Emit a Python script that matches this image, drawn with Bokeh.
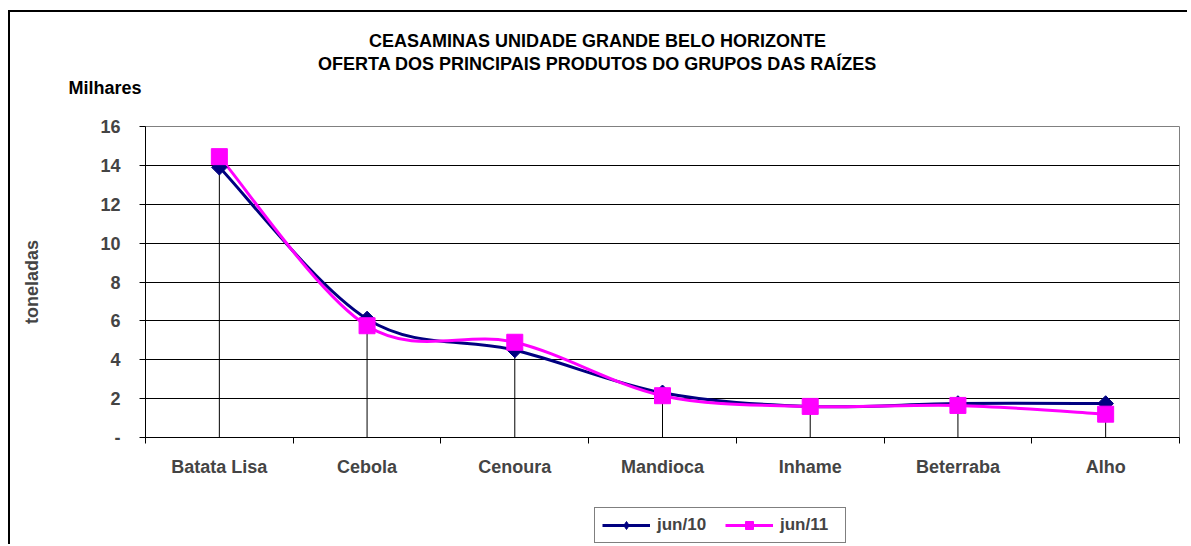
import numpy as np
from bokeh.plotting import figure
from bokeh.models import FixedTicker, Legend, LegendItem, Range1d, ColumnDataSource
from bokeh.core.properties import value
from bokeh.embed import file_html
from bokeh.resources import INLINE

# ---- data ----
categories = ["Batata Lisa", "Cebola", "Cenoura", "Mandioca", "Inhame", "Beterraba", "Alho"]
jun10 = [13.9, 6.1, 4.5, 2.3, 1.6, 1.75, 1.75]
jun11 = [14.45, 5.75, 4.9, 2.15, 1.6, 1.65, 1.2]
series_names = ["jun/10", "jun/11"]
y_ticks = [0, 2, 4, 6, 8, 10, 12, 14, 16]
y_tick_labels = ["-", "2", "4", "6", "8", "10", "12", "14", "16"]
title_lines = ["CEASAMINAS UNIDADE GRANDE BELO HORIZONTE",
               "OFERTA DOS PRINCIPAIS PRODUTOS DO GRUPOS DAS RAÍZES"]
unit_text = "Milhares"
y_title = "toneladas"

FONT = "Liberation Sans"
NAVY = "#000080"
MAGENTA = "#FF00FF"
W = 1179

xs = np.arange(len(categories), dtype=float)


def smooth_segments(y):
    """Cubic Bezier pieces (Catmull-Rom style smoothing, like Excel's smoothed line)."""
    y = np.asarray(y, dtype=float)
    n = len(y)
    d = dict(x0=[], y0=[], x1=[], y1=[], cx0=[], cy0=[], cx1=[], cy1=[])
    for i in range(n - 1):
        i0 = max(i - 1, 0)
        i3 = min(i + 2, n - 1)
        p0 = np.array([xs[i0], y[i0]])
        p1 = np.array([xs[i], y[i]])
        p2 = np.array([xs[i + 1], y[i + 1]])
        p3 = np.array([xs[i3], y[i3]])
        c0 = p1 + (p2 - p0) / 6.0
        c1 = p2 - (p3 - p1) / 6.0
        d["x0"].append(p1[0]); d["y0"].append(p1[1])
        d["x1"].append(p2[0]); d["y1"].append(p2[1])
        d["cx0"].append(c0[0]); d["cy0"].append(c0[1])
        d["cx1"].append(c1[0]); d["cy1"].append(c1[1])
    return ColumnDataSource(d)


def blank_fig(height, x0=0):
    f = figure(width=W, height=height, x_range=Range1d(x0, x0 + W), y_range=Range1d(0, height),
               x_axis_type=None, y_axis_type=None, output_backend="svg", toolbar_location=None,
               min_border=0)
    f.xgrid.visible = False
    f.ygrid.visible = False
    f.outline_line_color = None
    f.background_fill_color = "white"
    f.border_fill_color = "white"
    return f


# ---------- heading strip ----------
TOP_H = 104
head = blank_fig(TOP_H)
head.text(x=[587, 587], y=[TOP_H - 28, TOP_H - 51], text=title_lines,
          text_align="center", text_baseline="middle", text_font=value(FONT),
          text_font_style="bold", text_font_size="18px", text_color="black")
head.text(x=[58], y=[TOP_H - 75], text=[unit_text],
          text_align="left", text_baseline="middle", text_font=value(FONT),
          text_font_style="bold", text_font_size="18px", text_color="black")
head.margin = (10, 0, 0, 8)
head.styles = {"border-top": "2px solid black", "border-left": "2px solid black"}

# ---------- main chart ----------
p = figure(frame_width=1034, frame_height=311,
           x_range=Range1d(-0.5, len(categories) - 0.5), y_range=Range1d(0, 16),
           output_backend="svg", toolbar_location=None,
           min_border_left=135, min_border_right=10, min_border_top=12, min_border_bottom=50)
p.margin = (0, 0, 0, 8)
p.styles = {"border-left": "2px solid black"}
p.background_fill_color = "white"
p.border_fill_color = "white"
p.outline_line_color = "#808080"
p.outline_line_width = 1

p.xgrid.visible = False
p.ygrid.ticker = FixedTicker(ticks=y_ticks[1:-1])
p.ygrid.grid_line_color = "black"
p.ygrid.grid_line_width = 1

yax = p.yaxis[0]
yax.ticker = FixedTicker(ticks=y_ticks)
yax.major_label_overrides = {t: l for t, l in zip(y_ticks, y_tick_labels)}
yax.major_tick_out = 6
yax.major_tick_in = 0
yax.minor_tick_out = 0
yax.minor_tick_in = 0
yax.axis_line_color = "black"
yax.major_label_text_font = FONT
yax.major_label_text_font_style = "bold"
yax.major_label_text_font_size = "18px"
yax.major_label_standoff = 19
yax.axis_label = y_title
yax.axis_label_text_font = FONT
yax.axis_label_text_font_style = "bold"
yax.axis_label_text_font_size = "18px"
yax.axis_label_standoff = 55

xax = p.xaxis[0]
xax.ticker = FixedTicker(ticks=list(xs), minor_ticks=list(np.arange(len(categories) + 1) - 0.5))
xax.major_label_overrides = {int(i): c for i, c in enumerate(categories)}
xax.major_tick_out = 0
xax.major_tick_in = 0
xax.minor_tick_out = 6
xax.minor_tick_in = 0
xax.axis_line_color = "black"
xax.major_label_text_font = FONT
xax.major_label_text_font_style = "bold"
xax.major_label_text_font_size = "18px"
xax.major_label_standoff = 13

# drop lines
tops = [max(a, b) for a, b in zip(jun10, jun11)]
p.segment(x0=xs, y0=[0] * len(xs), x1=xs, y1=tops, line_color="black", line_width=1)

# series
p.bezier(x0="x0", y0="y0", x1="x1", y1="y1", cx0="cx0", cy0="cy0", cx1="cx1", cy1="cy1",
         source=smooth_segments(jun10), line_color=NAVY, line_width=3)
p.bezier(x0="x0", y0="y0", x1="x1", y1="y1", cx0="cx0", cy0="cy0", cx1="cx1", cy1="cy1",
         source=smooth_segments(jun11), line_color=MAGENTA, line_width=3)
p.scatter(xs, jun10, marker="square", angle=np.pi / 4, size=11, fill_color=NAVY, line_color=NAVY)
p.scatter(xs, jun11, marker="square", size=16, fill_color=MAGENTA, line_color=MAGENTA)

# ---------- legend strip ----------
MAIN_H = 12 + 311 + 50
LEG_H = 546 - 12 - TOP_H - MAIN_H
# view window placed away from the data so the legend proxies stay out of sight
leg = blank_fig(LEG_H, x0=100)
l10 = leg.line(xs, jun10, line_color=NAVY, line_width=3)
m10 = leg.scatter(xs, jun10, marker="diamond", size=17, fill_color=NAVY, line_color=NAVY)
l11 = leg.line(xs, jun11, line_color=MAGENTA, line_width=3)
m11 = leg.scatter(xs, jun11, marker="square", size=14, fill_color=MAGENTA, line_color=MAGENTA)
legend = Legend(items=[LegendItem(label=series_names[0], renderers=[l10, m10]),
                       LegendItem(label=series_names[1], renderers=[l11, m11])],
                orientation="horizontal", location=(584, 1),
                border_line_color="black", border_line_width=1, background_fill_color="white",
                label_text_font=FONT, label_text_font_style="bold", label_text_font_size="17px",
                glyph_width=48, glyph_height=20, spacing=10, padding=7, margin=0,
                label_standoff=7, label_width=58)
leg.add_layout(legend)
leg.margin = (0, 0, 0, 8)
leg.styles = {"border-left": "2px solid black"}

open("out.html", "w").write(file_html([head, p, leg], INLINE))
